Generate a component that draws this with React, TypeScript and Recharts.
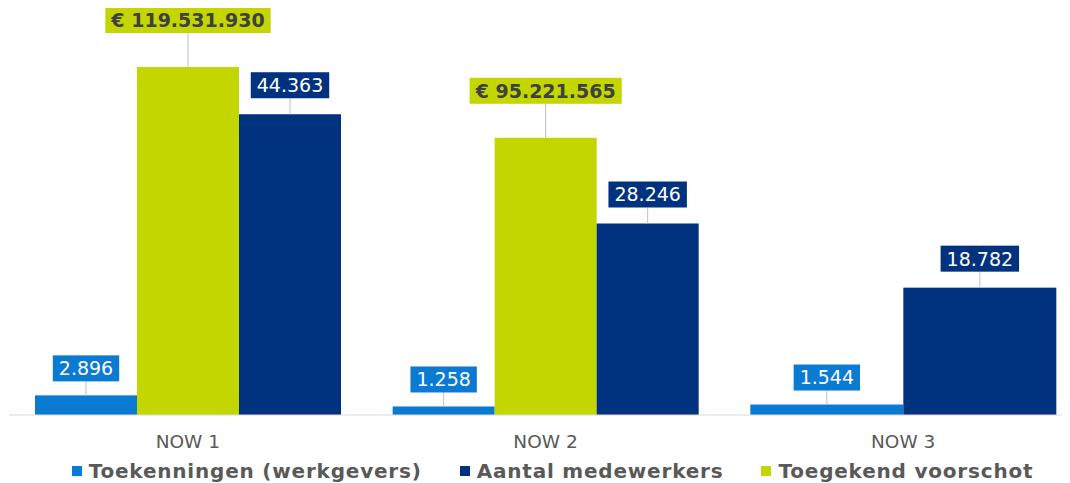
import React from "react"
import { BarChart, Bar, XAxis, YAxis, LabelList, Legend } from "recharts"

const categories = ["NOW 1", "NOW 2", "NOW 3"]
const toekenningen = [2896, 1258, 1544]
const voorschot: (number | null)[] = [119531930, 95221565, null]
const medewerkers = [44363, 28246, 18782]

const BLUE = "#0A7AD2"
const LIME = "#C4D600"
const NAVY = "#00327F"
const FONT = "'DejaVu Sans', Verdana, sans-serif"

const data = categories.map((name, i) => ({
  name,
  toekenningen: toekenningen[i],
  voorschot: voorschot[i],
  medewerkers: medewerkers[i],
}))

const fmt = (v: number) => String(v).replace(/\B(?=(\d{3})+(?!\d))/g, ".")

// rough DejaVu Sans glyph widths (em) for the label boxes
function textWidth(text: string, bold: boolean, size: number) {
  let em = 0
  for (const ch of text) {
    if (ch === "." || ch === " ") em += bold ? 0.37 : 0.318
    else em += bold ? 0.696 : 0.636
  }
  return em * size
}

// where a category has no "voorschot" bar, the two other bars share its slot
function widen(key: string, index: number, x: number, width: number) {
  if (voorschot[index] != null) return { x, width }
  if (key === "toekenningen") return { x, width: width * 1.5 }
  if (key === "medewerkers") return { x: x - width * 0.5, width: width * 1.5 }
  return { x, width }
}

function makeShape(key: string) {
  return (props: any) => {
    const { x, width } = widen(key, props.index, Number(props.x), Number(props.width))
    return <rect x={x} y={props.y} width={width} height={props.height} fill={props.fill} />
  }
}

function makeLabel(key: string, fill: string, color: string, bold: boolean, gap: number) {
  return (props: any) => {
    const { value, index } = props
    if (value == null) return null
    const y = Number(props.y)
    const { x, width } = widen(key, index, Number(props.x), Number(props.width))
    const cx = x + width / 2
    const text = (key === "voorschot" ? "€ " : "") + fmt(Number(value))
    const size = 19
    const w = textWidth(text, bold, size) + 12
    const h = 26
    const bottom = y - gap
    return (
      <g>
        <line x1={cx} y1={bottom} x2={cx} y2={y} stroke="#BFBFBF" strokeWidth={1} />
        <rect x={cx - w / 2} y={bottom - h} width={w} height={h} fill={fill} />
        <text
          x={cx}
          y={bottom - h / 2}
          dy="0.36em"
          textAnchor="middle"
          fill={color}
          fontSize={size}
          fontWeight={bold ? "bold" : "normal"}
          fontFamily={FONT}
        >
          {text}
        </text>
      </g>
    )
  }
}

const legendItems = [
  { label: "Toekenningen (werkgevers)", color: BLUE },
  { label: "Aantal medewerkers", color: NAVY },
  { label: "Toegekend voorschot", color: LIME },
]

function LegendContent() {
  return (
    <div
      style={{
        display: "flex",
        justifyContent: "center",
        gap: 38,
        paddingLeft: 14,
        paddingTop: 8,
        fontFamily: FONT,
        fontSize: 20,
        letterSpacing: 0.8,
        fontWeight: "bold",
        color: "#595959",
      }}
    >
      {legendItems.map((it) => (
        <div key={it.label} style={{ display: "flex", alignItems: "center", gap: 7 }}>
          <span style={{ width: 10, height: 10, background: it.color, display: "inline-block" }} />
          <span>{it.label}</span>
        </div>
      ))}
    </div>
  )
}

function CategoryTick(props: any) {
  const { x, y, payload } = props
  return (
    <text x={x} y={y} dy={31} textAnchor="middle" fill="#595959" fontSize={18.5} fontFamily={FONT}>
      {payload.value}
    </text>
  )
}

export default function App() {
  return (
    <div style={{ margin: "-8px 0 0 -8px", width: 1070, height: 483, overflow: "hidden" }}>
      <BarChart
        width={1082}
        height={483}
        data={data}
        margin={{ top: 15, right: 0, bottom: 0, left: 9 }}
        barCategoryGap={26}
        barGap={0}
      >
        <XAxis
          dataKey="name"
          height={36}
          axisLine={{ stroke: "#D9D9D9" }}
          tickLine={false}
          tickSize={0}
          tick={<CategoryTick />}
        />
        <YAxis yAxisId="count" hide domain={[0, 59000]} />
        <YAxis yAxisId="euro" hide domain={[0, 137400000]} orientation="right" />
        <Legend verticalAlign="bottom" height={32} content={() => <LegendContent />} />
        <Bar yAxisId="count" dataKey="toekenningen" fill={BLUE} isAnimationActive={false} shape={makeShape("toekenningen")}>
          <LabelList dataKey="toekenningen" content={makeLabel("toekenningen", BLUE, "#FFFFFF", false, 14)} />
        </Bar>
        <Bar yAxisId="euro" dataKey="voorschot" fill={LIME} isAnimationActive={false} shape={makeShape("voorschot")}>
          <LabelList dataKey="voorschot" content={makeLabel("voorschot", LIME, "#404040", true, 34)} />
        </Bar>
        <Bar yAxisId="count" dataKey="medewerkers" fill={NAVY} isAnimationActive={false} shape={makeShape("medewerkers")}>
          <LabelList dataKey="medewerkers" content={makeLabel("medewerkers", NAVY, "#FFFFFF", false, 16)} />
        </Bar>
      </BarChart>
    </div>
  )
}
